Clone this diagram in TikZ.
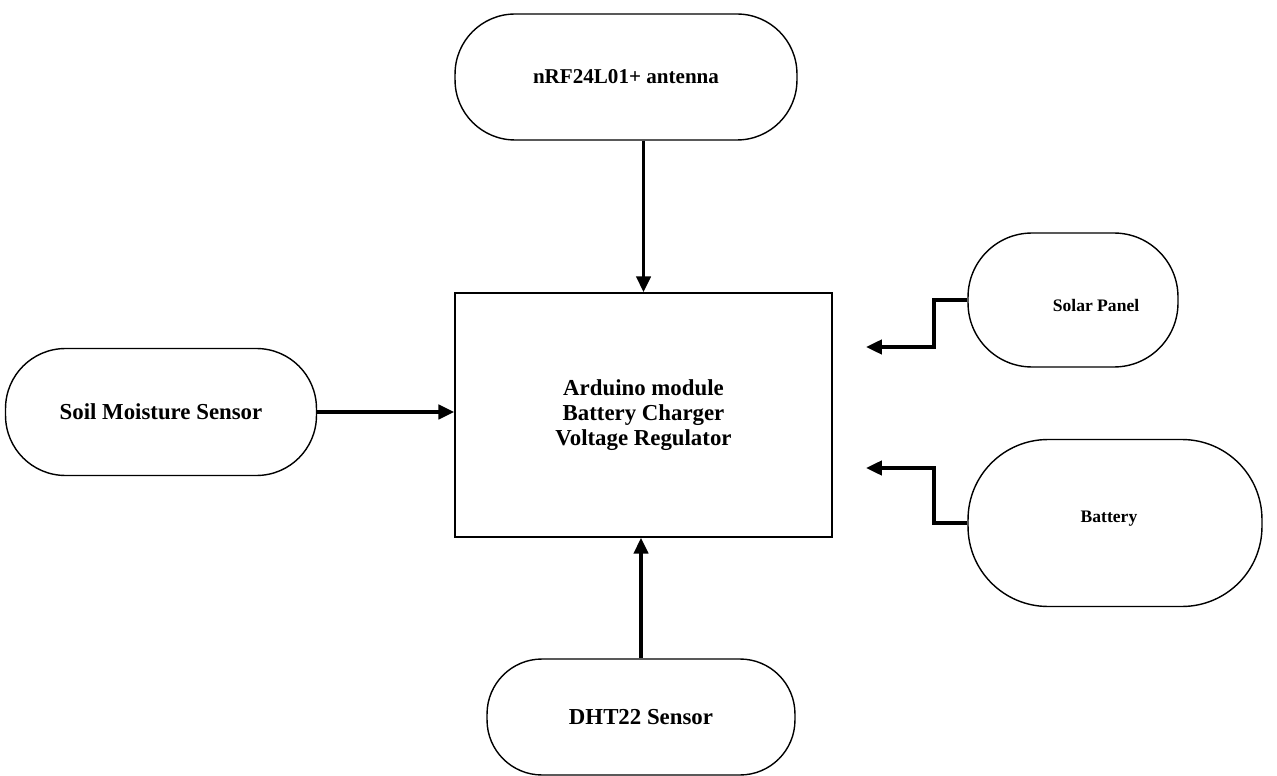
\documentclass[tikz,border=0pt]{standalone}
\usepackage{fontspec}
\setmainfont{Liberation Serif}
\usetikzlibrary{arrows.meta,calc}
\begin{document}
\begin{tikzpicture}[x=0.02cm,y=-0.02cm,
  pill/.style={draw,line width=0.8pt,align=center,inner sep=0pt,
    font=\fontsize{13}{14}\selectfont\bfseries},
  mainbox/.style={draw,line width=0.9pt,align=center,inner sep=0pt,
    font=\fontsize{13}{14}\selectfont\bfseries},
  arr/.style={line width=2.2pt,-{Triangle[length=9pt,width=8pt]}}]
\useasboundingbox (0,0) rectangle (1277,776);
\node[pill,minimum width=6.84cm,minimum height=2.52cm,rounded corners=1.2cm,
  font=\fontsize{12}{13}\selectfont\bfseries] (ant) at (626,77) {nRF24L01+ antenna};
\node[mainbox,minimum width=7.54cm,minimum height=4.88cm] (box) at (643.5,415) {Arduino module\\Battery Charger\\Voltage Regulator};
\node[pill,minimum width=6.22cm,minimum height=2.54cm,rounded corners=1.2cm] (soil) at (161,412) {Soil Moisture Sensor};
\node[pill,minimum width=4.2cm,minimum height=2.68cm,rounded corners=1.28cm,
  label={[font=\fontsize{10}{11}\selectfont\bfseries,xshift=0.46cm,yshift=-0.1cm]center:Solar Panel}] (solar) at (1073,300) {};
\node[pill,minimum width=5.88cm,minimum height=3.34cm,rounded corners=1.6cm,
  label={[font=\fontsize{10}{11}\selectfont\bfseries,xshift=-0.12cm,yshift=0.08cm]center:Battery}] (bat) at (1115,523) {};
\node[pill,minimum width=6.16cm,minimum height=2.32cm,rounded corners=1.1cm] (dht) at (641,717) {DHT22 Sensor};
\coordinate (st) at (866,347);
\coordinate (bt) at (866,468);
\draw[arr] (ant.south -| box.north) -- (box.north);
\draw[arr] (dht.north) -- (dht.north |- box.south);
\draw[arr] (soil.east) -- (soil.east -| box.west);
\draw[arr] (solar.west) -- ++(-33,0) |- (st);
\draw[arr] (bat.west) -- ++(-33,0) |- (bt);
\end{tikzpicture}
\end{document}
